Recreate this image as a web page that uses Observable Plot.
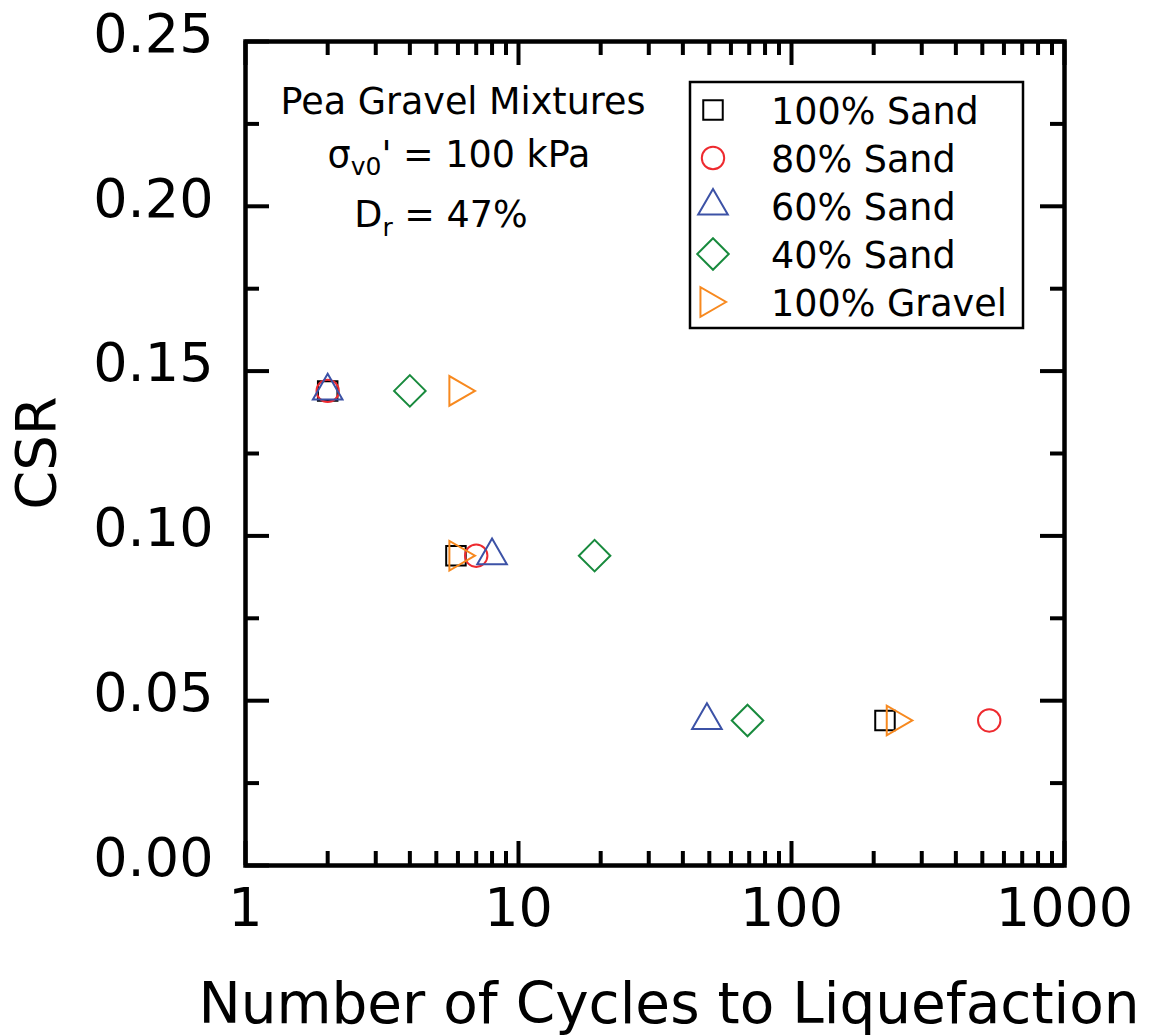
<!DOCTYPE html>
<html><head><meta charset="utf-8">
<script src="https://cdn.jsdelivr.net/npm/d3@7"></script>
<script src="https://cdn.jsdelivr.net/npm/@observablehq/plot@0.6"></script>
<style>
body{margin:0;background:#fff;}
#chart{position:relative;width:1151px;height:1036px;}
</style>
</head><body><div id="chart"></div>
<script>
// ---- data ----
const seriesNames = ["100% Sand", "80% Sand", "60% Sand", "40% Sand", "100% Gravel"];
const seriesColors = ["#000000", "#ee2a2f", "#3c52a6", "#188a3d", "#f7891f"];
const seriesSymbols = ["square", "circle", "triangle", "diamond2", "triangle"];
const seriesRotate = [0, 0, 0, 0, 90];
const seriesRadius = [11, 11.2, 11, 14.2, 11];
const csrLevels = [0.144, 0.094, 0.044];
const cycles100Sand = [2, 5.9, 220];
const cycles80Sand = [2, 7, 530];
const cycles60Sand = [2, 8, 49];
const cycles40Sand = [4, 19, 69];
const cycles100Gravel = [6, 6, 240];
const seriesCycles = [cycles100Sand, cycles80Sand, cycles60Sand, cycles40Sand, cycles100Gravel];

const xMajorTicks = [1, 10, 100, 1000];
const xMinorTicks = [2, 3, 4, 5, 6, 7, 8, 9, 20, 30, 40, 50, 60, 70, 80, 90, 200, 300, 400, 500, 600, 700, 800, 900];
const yMajorTicks = [0, 0.05, 0.10, 0.15, 0.20, 0.25];
const yMinorTicks = [0.025, 0.075, 0.125, 0.175, 0.225];

const xLabel = "Number of Cycles to Liquefaction";
const yLabel = "CSR";

// ---- layout ----
const W = 1151, H = 1036;
const mL = 245, mR = 87, mT = 41, mB = 171;
const innerW = W - mL - mR, innerH = H - mT - mB;
const majorLen = 24, minorLen = 14, tickW = 4;
const FONT = "DejaVu Sans, Verdana, sans-serif";

const seriesData = seriesNames.map((name, i) =>
  seriesCycles[i].map((c, j) => ({series: name, cycles: c, csr: csrLevels[j]})));

const marks = [
  Plot.axisX({ticks: xMajorTicks, tickFormat: d3.format("d"), tickSize: 0, tickPadding: 22, fontSize: 54, label: null}),
  Plot.axisY({ticks: yMajorTicks, tickFormat: d3.format(".2f"), tickSize: 0, tickPadding: 32, fontSize: 54, label: null, dy: -7}),
  // inward ticks on all four sides
  Plot.tickX(xMajorTicks, {x: d => d, insetTop: innerH - majorLen, strokeWidth: tickW}),
  Plot.tickX(xMajorTicks, {x: d => d, insetBottom: innerH - majorLen, strokeWidth: tickW}),
  Plot.tickX(xMinorTicks, {x: d => d, insetTop: innerH - minorLen, strokeWidth: tickW}),
  Plot.tickX(xMinorTicks, {x: d => d, insetBottom: innerH - minorLen, strokeWidth: tickW}),
  Plot.tickY(yMajorTicks, {y: d => d, insetRight: innerW - majorLen, strokeWidth: tickW}),
  Plot.tickY(yMajorTicks, {y: d => d, insetLeft: innerW - majorLen, strokeWidth: tickW}),
  Plot.tickY(yMinorTicks, {y: d => d, insetRight: innerW - minorLen, strokeWidth: tickW}),
  Plot.tickY(yMinorTicks, {y: d => d, insetLeft: innerW - minorLen, strokeWidth: tickW}),
  Plot.frame({stroke: "#000", strokeWidth: 4.5}),
  ...seriesData.map((rows, i) => Plot.dot(rows, {
    x: "cycles", y: "csr", symbol: seriesSymbols[i], r: seriesRadius[i],
    rotate: seriesRotate[i], stroke: seriesColors[i], fill: "none", strokeWidth: 2
  }))
];

const svg = Plot.plot({
  width: W, height: H,
  marginLeft: mL, marginRight: mR, marginTop: mT, marginBottom: mB,
  style: {fontFamily: FONT, color: "#000", background: "#fff", overflow: "visible"},
  x: {type: "log", domain: [1, 1000]},
  y: {domain: [0, 0.25]},
  marks
});
document.getElementById("chart").appendChild(svg);

const s = d3.select(svg);
// axis titles
s.append("text").attr("x", 669).attr("y", 1023).attr("text-anchor", "middle")
  .attr("font-family", FONT).attr("font-size", 56.5).attr("fill", "#000").text(xLabel);
s.append("text").attr("transform", "translate(55,453) rotate(-90)").attr("text-anchor", "middle")
  .attr("font-family", FONT).attr("font-size", 56).attr("fill", "#000").text(yLabel);

// annotation
const ann = s.append("g").attr("font-family", FONT).attr("font-size", 36.5).attr("fill", "#000").attr("text-anchor", "middle");
ann.append("text").attr("x", 463).attr("y", 114).text("Pea Gravel Mixtures");
const t2 = ann.append("text").attr("x", 459).attr("y", 167);
t2.append("tspan").text("σ");
t2.append("tspan").attr("font-size", 25).attr("dy", 8).text("v0");
t2.append("tspan").attr("dy", -8).text("' = 100 kPa");
const t3 = ann.append("text").attr("x", 441).attr("y", 227);
t3.append("tspan").text("D");
t3.append("tspan").attr("font-size", 25).attr("dy", 9).text("r");
t3.append("tspan").attr("dy", -9).text(" = 47%");

// legend
const lg = s.append("g");
lg.append("rect").attr("x", 690).attr("y", 82).attr("width", 333).attr("height", 246)
  .attr("fill", "#fff").attr("stroke", "#000").attr("stroke-width", 2.5);
const symMap = {square: d3.symbolSquare, circle: d3.symbolCircle, triangle: d3.symbolTriangle, diamond2: d3.symbolDiamond2};
seriesNames.forEach((name, i) => {
  const cy = 110 + i * 48;
  const r = seriesRadius[i];
  lg.append("path")
    .attr("d", d3.symbol(symMap[seriesSymbols[i]], Math.PI * r * r)())
    .attr("transform", `translate(${713 + (seriesRotate[i] ? -4 : 0)},${cy}) rotate(${seriesRotate[i]})`)
    .attr("fill", "none").attr("stroke", seriesColors[i]).attr("stroke-width", 2);
  lg.append("text").attr("x", 771).attr("y", cy + 14).attr("text-anchor", "start").attr("font-family", FONT)
    .attr("font-size", 36.5).attr("fill", "#000").text(name);
});
</script>
</body></html>
